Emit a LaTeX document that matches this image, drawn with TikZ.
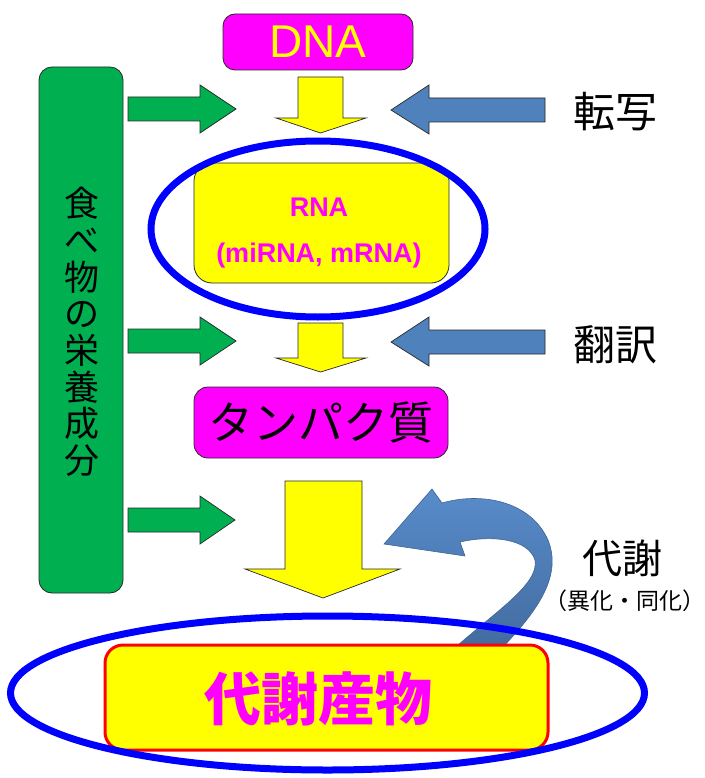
\documentclass[tikz,border=0pt]{standalone}
\usepackage{fontspec}
\setmainfont{Liberation Sans}
\newfontfamily\jp{Noto Sans CJK JP}
\usetikzlibrary{shapes.geometric}
\definecolor{mag}{RGB}{255,0,255}
\definecolor{yel}{RGB}{255,255,0}
\definecolor{grn}{RGB}{0,176,80}
\definecolor{steel}{RGB}{79,129,189}
\definecolor{steeltop}{RGB}{88,140,202}
\definecolor{steelbot}{RGB}{66,106,158}
\definecolor{steeledge}{RGB}{62,100,150}
\definecolor{pureblue}{RGB}{0,0,255}
\definecolor{purered}{RGB}{255,0,0}
\definecolor{edge}{RGB}{40,40,40}
\begin{document}
\begin{tikzpicture}[x=1pt,y=-1pt,
  boxstyle/.style={draw=edge, line width=0.8pt, inner sep=0pt},
  garrow/.style={draw=edge, line width=0.7pt, fill=grn},
  barrow/.style={draw=edge, line width=0.7pt, fill=steel},
  yarrow/.style={draw=edge, line width=0.7pt, fill=yel},
  ringstyle/.style={ellipse, draw=pureblue, line width=7pt, inner sep=0pt},
  jplabel/.style={font=\jp\fontsize{42}{42}\selectfont, text=black, inner sep=0pt}]
\useasboundingbox (0,0) rectangle (704,778);

% left green bar
\node[boxstyle, fill=grn, rounded corners=13pt, minimum width=84pt, minimum height=526pt] (food) at (81,330) {};
\node[inner sep=0pt, align=center, font=\jp\fontsize{35}{36.7}\selectfont] (foodtext) at (82,332) {食\\べ\\物\\の\\栄\\養\\成\\分};

% DNA box
\node[boxstyle, fill=mag, rounded corners=12pt, minimum width=190pt, minimum height=56pt, text=yel, font=\fontsize{46}{46}\selectfont] (dna) at (318,42) {DNA};

% row 1 arrows
\draw[garrow] (128,97) -- (200,97) -- (200,85) -- (236,109) -- (200,133) -- (200,121) -- (128,121) -- cycle;
\draw[barrow] (545,98) -- (429,98) -- (429,85) -- (391,110) -- (429,134) -- (429,122) -- (545,122) -- cycle;
\draw[yarrow] (298,77) -- (343,77) -- (343,118) -- (366,118) -- (320.5,133) -- (276,118) -- (298,118) -- cycle;
\node[jplabel] (tensha) at (615,112) {転写};

% RNA box
\node[boxstyle, fill=yel, rounded corners=18pt, minimum width=255pt, minimum height=120pt] (rna) at (321.5,223) {};
\node[inner sep=0pt, align=center, text=mag, font=\bfseries\fontsize{27}{46}\selectfont] (rnatext) at (319,233) {RNA\\(miRNA, mRNA)};
\node[ringstyle, minimum width=334pt, minimum height=176pt] (ring1) at (318,229) {};

% row 2 arrows
\draw[garrow] (128,329) -- (200,329) -- (200,317) -- (236,341) -- (200,365) -- (200,353) -- (128,353) -- cycle;
\draw[barrow] (545,330) -- (429,330) -- (429,317) -- (391,342) -- (429,366) -- (429,354) -- (545,354) -- cycle;
\draw[yarrow] (298,323) -- (343,323) -- (343,358) -- (366,358) -- (320.5,372) -- (276,358) -- (298,358) -- cycle;
\node[jplabel] (honyaku) at (615,345) {翻訳};

% protein box
\node[boxstyle, fill=mag, rounded corners=14pt, minimum width=254pt, minimum height=71pt, font=\jp\fontsize{45}{45}\selectfont] (protein) at (321,422.5) {タンパク質};

% row 3 arrows
\draw[garrow] (128,508) -- (200,508) -- (200,496) -- (235,520) -- (200,544) -- (200,532) -- (128,532) -- cycle;
\draw[yarrow] (285,481) -- (362,481) -- (362,569) -- (400,569) -- (323,598) -- (245,569) -- (285,569) -- cycle;

% curved metabolism arrow
\path[draw=steeledge, line width=0.6pt, top color=steeltop, bottom color=steelbot]
  (384,544) -- (432,489) -- (442,503)
  .. controls (480,492) and (530,500) .. (548,540)
  .. controls (562,575) and (540,610) .. (495,655)
  -- (447,655)
  .. controls (490,615) and (540,585) .. (535,560)
  .. controls (528,538) and (490,535) .. (460,542)
  -- (465,556) -- cycle;
\node[inner sep=0pt, font=\jp\fontsize{40}{40}\selectfont] (taisha) at (622,558) {代謝};
\node[inner sep=0pt, font=\jp\fontsize{23}{23}\selectfont] (ika) at (625,601) {（異化・同化）};

% metabolite box
\node[draw=purered, line width=3pt, fill=yel, rounded corners=18pt, inner sep=0pt, minimum width=443pt, minimum height=105pt] (product) at (326.5,697.5) {};
\node[inner sep=0pt, text=mag, font=\jp\bfseries\fontsize{57}{57}\selectfont] (producttext) at (318,699) {代謝産物};
\node[ringstyle, minimum width=634pt, minimum height=154pt] (ring2) at (327.5,693) {};
\end{tikzpicture}
\end{document}
